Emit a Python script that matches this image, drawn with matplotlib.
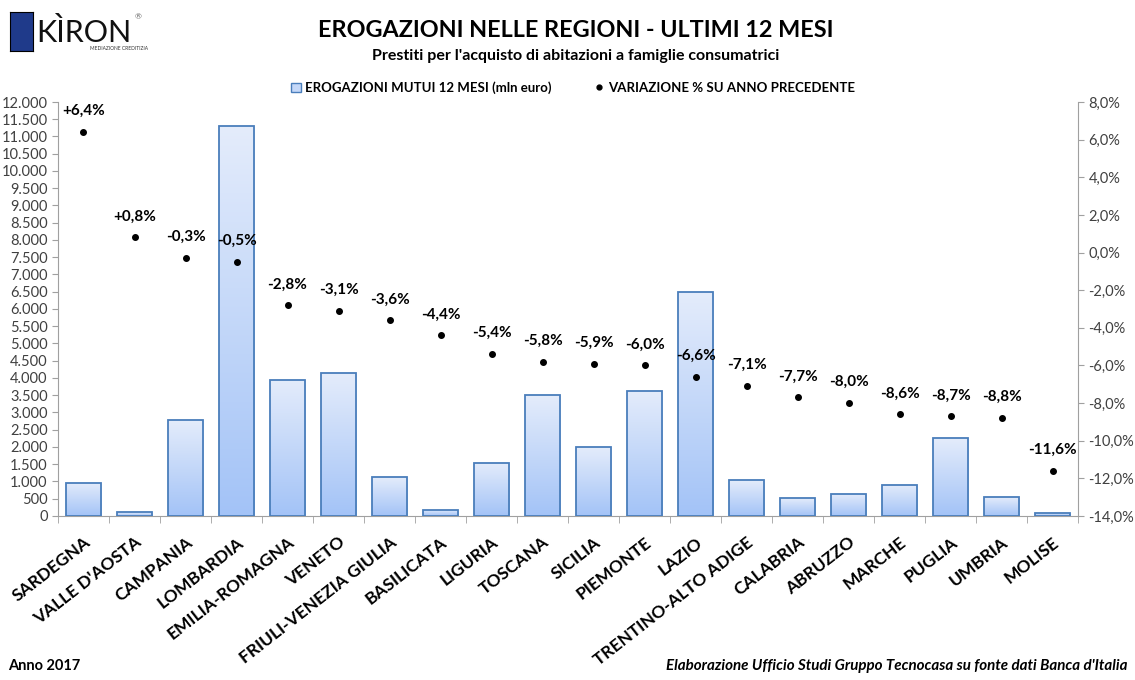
import numpy as np
import matplotlib.pyplot as plt
from matplotlib.colors import LinearSegmentedColormap
from matplotlib.ticker import FuncFormatter, MultipleLocator
from matplotlib.patches import Patch
from matplotlib.lines import Line2D

plt.rcParams['font.family'] = ['Lato', 'DejaVu Sans']

# Dati
regioni = ["SARDEGNA", "VALLE D'AOSTA", "CAMPANIA", "LOMBARDIA", "EMILIA-ROMAGNA",
           "VENETO", "FRIULI-VENEZIA GIULIA", "BASILICATA", "LIGURIA", "TOSCANA",
           "SICILIA", "PIEMONTE", "LAZIO", "TRENTINO-ALTO ADIGE", "CALABRIA",
           "ABRUZZO", "MARCHE", "PUGLIA", "UMBRIA", "MOLISE"]
erogazioni = [960, 110, 2780, 11300, 3950, 4140, 1130, 175, 1540, 3500,
              2000, 3620, 6490, 1040, 520, 640, 900, 2260, 550, 90]
variazione = [6.4, 0.8, -0.3, -0.5, -2.8, -3.1, -3.6, -4.4, -5.4, -5.8,
              -5.9, -6.0, -6.6, -7.1, -7.7, -8.0, -8.6, -8.7, -8.8, -11.6]

fig = plt.figure(figsize=(11.35, 6.8), dpi=100)
ax = fig.add_axes([0.0511, 0.2412, 0.8987, 0.6088])
ax2 = ax.twinx()

x = np.arange(len(regioni))
bars = ax.bar(x, erogazioni, width=0.69, color='none', edgecolor='#4a7ebb',
              linewidth=1.3, zorder=3)

# riempimento sfumato delle barre
cmap = LinearSegmentedColormap.from_list('grad', ['#a3c3f7', '#e4ecfb'])
grad = np.linspace(0, 1, 256).reshape(-1, 1)
for b in bars:
    bx, by = b.get_x(), b.get_y()
    w, h = b.get_width(), b.get_height()
    im = ax.imshow(grad, cmap=cmap, aspect='auto', origin='lower',
                   extent=[bx, bx + w, by, by + h], zorder=2)
    im.set_clip_path(b)

ax.set_xlim(-0.5, len(regioni) - 0.5)
ax.set_ylim(0, 12000)
ax.yaxis.set_major_locator(MultipleLocator(500))
ax.yaxis.set_major_formatter(FuncFormatter(lambda v, p: f"{int(v):,}".replace(",", ".")))
ax.tick_params(axis='y', labelsize=10.5, colors='#404040', length=4, color='#a0a0a0')

ax.set_xticks(x)
ax.set_xticklabels(regioni, rotation=38, ha='right', rotation_mode='anchor',
                   fontsize=12.5, fontweight='bold')
ax.tick_params(axis='x', length=0, pad=13)
ax.set_xticks(np.arange(-0.5, len(regioni)), minor=True)
ax.tick_params(axis='x', which='minor', length=5, color='#a0a0a0')

for s in ['top', 'right']:
    ax.spines[s].set_visible(False)
for s in ['left', 'bottom']:
    ax.spines[s].set_color('#a0a0a0')

# serie variazione %
ax2.scatter(x, variazione, s=16, color='black', zorder=4)
for xi, v in zip(x, variazione):
    lab = (f"+{v:.1f}%" if v > 0 else f"{v:.1f}%").replace('.', ',')
    ax2.annotate(lab, (xi, v), xytext=(0, 10), textcoords='offset points',
                 ha='center', va='bottom', fontsize=11, fontweight='bold')
ax2.set_ylim(-14, 8)
ax2.yaxis.set_major_locator(MultipleLocator(2))
ax2.yaxis.set_major_formatter(FuncFormatter(lambda v, p: f"{v:.1f}%".replace('.', ',')))
ax2.tick_params(axis='y', labelsize=10.5, colors='#404040', length=4, color='#a0a0a0')
for s in ['top', 'left', 'bottom']:
    ax2.spines[s].set_visible(False)
ax2.spines['right'].set_color('#a0a0a0')

# legenda
handles = [Patch(facecolor='#c5d8f8', edgecolor='#4a7ebb', label='EROGAZIONI MUTUI 12 MESI (mln euro)'),
           Line2D([], [], marker='o', linestyle='none', color='black', markersize=3.5,
                  label='VARIAZIONE % SU ANNO PRECEDENTE')]
fig.legend(handles=handles, loc='center', bbox_to_anchor=(0.505, 0.871), ncol=2,
           frameon=False, prop={'size': 9.5, 'weight': 'bold'}, handlelength=0.8,
           handletextpad=0.3, columnspacing=3.2)

# titoli
fig.text(0.507, 0.955, 'EROGAZIONI NELLE REGIONI - ULTIMI 12 MESI', ha='center', va='center',
         fontsize=16.8, fontweight='bold')
fig.text(0.507, 0.918, "Prestiti per l'acquisto di abitazioni a famiglie consumatrici",
         ha='center', va='center', fontsize=11.5, fontweight='bold')
fig.text(0.007, 0.011, 'Anno 2017', ha='left', va='bottom', fontsize=10.5, fontweight='bold')
fig.text(0.993, 0.011, "Elaborazione Ufficio Studi Gruppo Tecnocasa su fonte dati Banca d'Italia",
         ha='right', va='bottom', fontsize=10.9, fontweight='bold', style='italic')

# logo
logo = fig.add_axes([0.009, 0.925, 0.02, 0.057])
logo.set_facecolor('#1f3a8a')
logo.set_xticks([])
logo.set_yticks([])
fig.text(0.032, 0.952, 'KÌRON', ha='left', va='center', fontsize=22, color='#111111')
fig.text(0.119, 0.975, '®', ha='left', va='center', fontsize=6, color='#666666')
fig.text(0.079, 0.929, 'MEDIAZIONE CREDITIZIA', ha='left', va='center', fontsize=3.5, color='#333333')

fig.savefig('out.png', dpi=100)
plt.close(fig)
